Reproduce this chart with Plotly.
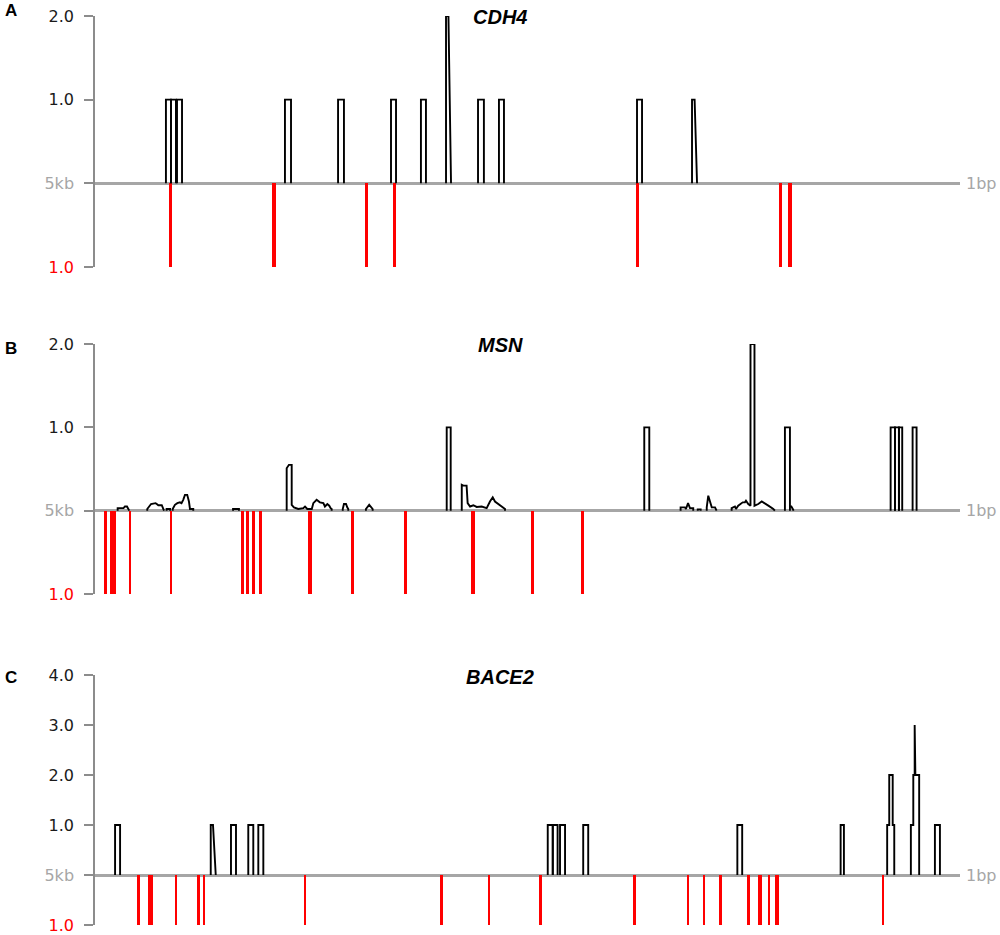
import plotly.graph_objects as go
from plotly.subplots import make_subplots

# positions are bp upstream: the axis runs from 5kb (left) to 1bp (right)

# ── CDH4 ──────────────────────────────────────────────────────────────────────
# black coverage pulses: (start_bp, end_bp, height)
CDH4_PULSES = [
    (4590, 4561, 1), (4561, 4532, 1), (4526, 4497, 1), (3902, 3867, 1),
    (3595, 3561, 1), (3289, 3260, 1), (3116, 3087, 1),
    (2786, 2752, 1), (2665, 2636, 1), (1867, 1838, 1),
]
# pulses with a sloping trailing edge: lists of (bp, height)
CDH4_SLOPED = [
    [(2971, 0), (2971, 2), (2957, 2), (2942, 0)],
    [(1549, 0), (1549, 1), (1534, 1), (1520, 0)],
]
CDH4_RED_POS = [4562, 3965, 3430, 3270, 1863, 1037, 983]
CDH4_RED_WIDTH = [19, 19, 17, 19, 17, 19, 19]

# ── MSN ───────────────────────────────────────────────────────────────────────
MSN_PULSES = [
    (2967, 2944, 1), (1825, 1796, 1), (1012, 983, 1),
    (401, 376, 1), (376, 353, 1), (353, 334, 1), (274, 251, 1),
]
# low-level coverage traces: lists of (bp, height)
MSN_WIGGLES = [
    [(4869, 0), (4869, 0.03), (4835, 0.03), (4827, 0.05), (4815, 0.05), (4802, 0)],
    [(4698, 0), (4698, 0.02), (4676, 0.08), (4650, 0.09), (4643, 0.08),
     (4634, 0.065), (4614, 0.065), (4601, 0)],
    [(4586, 0), (4586, 0.02), (4566, 0.02), (4566, 0)],
    [(4551, 0), (4551, 0.02), (4538, 0.07), (4524, 0.09), (4509, 0.1), (4500, 0.09),
     (4490, 0.13), (4480, 0.19), (4467, 0.19), (4457, 0.11), (4451, 0.02),
     (4432, 0.02), (4432, 0)],
    [(4202, 0), (4202, 0.02), (4168, 0.02), (4168, 0)],
    [(3892, 0), (3892, 0.51), (3879, 0.55), (3863, 0.55), (3863, 0.07),
     (3850, 0.04), (3825, 0.02), (3796, 0.03), (3786, 0.05), (3773, 0.02),
     (3747, 0.02), (3738, 0.09), (3719, 0.13), (3700, 0.1), (3680, 0.09),
     (3671, 0.05), (3657, 0.08), (3646, 0.06), (3638, 0.03), (3632, 0.02), (3632, 0)],
    [(3568, 0), (3568, 0.02), (3561, 0.08), (3549, 0.08), (3542, 0.04),
     (3536, 0.02), (3536, 0)],
    [(3434, 0), (3434, 0.02), (3415, 0.07), (3405, 0.04), (3395, 0.02), (3395, 0)],
    [(2880, 0), (2880, 0.31), (2871, 0.3), (2852, 0.3), (2846, 0.09),
     (2832, 0.05), (2813, 0.065), (2794, 0.045), (2765, 0.05), (2736, 0.03),
     (2717, 0.11), (2701, 0.16), (2688, 0.11), (2669, 0.08), (2649, 0.05),
     (2630, 0.02), (2630, 0)],
    [(1615, 0), (1615, 0.04), (1590, 0.04), (1584, 0.02), (1572, 0.09),
     (1561, 0.03), (1542, 0.03), (1542, 0)],
    [(1516, 0), (1516, 0.015), (1499, 0.015), (1499, 0)],
    [(1464, 0), (1464, 0.04), (1455, 0.18), (1445, 0.11), (1435, 0.04),
     (1416, 0.04), (1407, 0)],
    [(1320, 0), (1320, 0.03), (1301, 0.05), (1295, 0.02), (1282, 0.06),
     (1272, 0.08), (1256, 0.1), (1243, 0.1), (1237, 0.12), (1224, 0.08),
     (1211, 0.06), (1211, 2), (1188, 2), (1188, 0.06), (1166, 0.08),
     (1146, 0.11), (1127, 0.09), (1108, 0.06), (1079, 0.02), (1070, 0)],
    [(983, 0.05), (975, 0.05), (964, 0.01), (964, 0)],
]
MSN_RED_POS = [4938, 4902, 4886, 4798, 4559, 4149, 4116, 4083, 4046,
               3757, 3512, 3204, 2815, 2470, 2181]
MSN_RED_WIDTH = [18, 18, 10, 16, 8, 17, 17, 17, 17, 18, 18, 18, 18, 18, 18]

# ── BACE2 ─────────────────────────────────────────────────────────────────────
BACE2_PULSES = [
    (4884, 4855, 1), (4214, 4185, 1), (4114, 4085, 1),
    (4056, 4027, 1), (2383, 2354, 1), (2354, 2326, 1), (2312, 2283, 1),
    (2178, 2149, 1), (1287, 1259, 1), (690, 671, 1), (145, 116, 1),
]
BACE2_STACKS = [
    [(4331, 0), (4331, 1), (4318, 1), (4302, 0)],
    [(421, 0), (421, 1), (409, 1), (409, 2), (389, 2), (389, 1), (380, 1), (380, 0)],
    [(284, 0), (284, 1), (270, 1), (270, 2), (262, 2), (262, 3), (258, 3),
     (258, 2), (236, 2), (236, 0)],
]
BACE2_RED_POS = [4750, 4681, 4533, 4403, 4370, 3786, 2996, 2723, 2424,
                 1881, 1571, 1480, 1383, 1224, 1156, 1108, 1058, 444]
BACE2_RED_WIDTH = [9, 29, 11, 16, 9, 16, 16, 16, 16, 16, 12, 12, 16, 9, 18, 9, 18, 9]

GENES = ["CDH4", "MSN", "BACE2"]
LETTERS = ["A", "B", "C"]
Y_TOPS = [2, 2, 4]

GREY = "#a6a6a6"
AXIS_GREY = "#8c8c8c"

W, H = 1000, 935
# plot-area rows in page pixels (top, bottom)
ROWS_PX = [(16, 267), (344, 594), (675, 925)]
TITLE_Y_PX = [17.5, 345, 676.5]
LETTER_Y_PX = [11, 348.5, 677]


def coverage_xy(pulses, segments=()):
    xs, ys = [], []
    for a, b, h in pulses:
        xs += [a, a, b, b, None]
        ys += [0, h, h, 0, None]
    for seg in segments:
        xs += [p[0] for p in seg] + [None]
        ys += [p[1] for p in seg] + [None]
    return xs, ys


panels = [
    (CDH4_PULSES, CDH4_SLOPED, CDH4_RED_POS, CDH4_RED_WIDTH),
    (MSN_PULSES, MSN_WIGGLES, MSN_RED_POS, MSN_RED_WIDTH),
    (BACE2_PULSES, BACE2_STACKS, BACE2_RED_POS, BACE2_RED_WIDTH),
]

fig = make_subplots(rows=3, cols=1)

for i, (pulses, segs, red_pos, red_w) in enumerate(panels):
    r = i + 1
    xs, ys = coverage_xy(pulses, segs)
    fig.add_trace(
        go.Bar(x=red_pos, y=[-1] * len(red_pos), width=red_w,
               marker=dict(color="#ff0000", line=dict(width=0)), showlegend=False),
        row=r, col=1,
    )
    fig.add_trace(
        go.Scatter(x=xs, y=ys, mode="lines", line=dict(color="black", width=1.9),
                   connectgaps=False, showlegend=False),
        row=r, col=1,
    )

    top = Y_TOPS[i]
    tickvals = [-1, 0] + list(range(1, top + 1))
    ticktext = [
        '<span style="color:#ff0000">1.0</span>',
        f'<span style="color:{GREY}">5kb</span>',
    ] + [f"{v:.1f}" for v in range(1, top + 1)]

    t_px, b_px = ROWS_PX[i]
    fig.update_yaxes(
        row=r, col=1,
        domain=[1 - b_px / H, 1 - t_px / H],
        range=[-1, top], tickvals=tickvals, ticktext=ticktext,
        showgrid=False, showline=True, linecolor=AXIS_GREY, linewidth=1.5,
        ticks="outside", ticklen=9, tickcolor=AXIS_GREY, tickwidth=1.5,
        zeroline=True, zerolinecolor=GREY, zerolinewidth=2.5,
        tickfont=dict(family="DejaVu Sans", size=16, color="#1a1a1a"),
        ticklabelstandoff=7, automargin=False,
    )
    fig.update_xaxes(
        row=r, col=1, domain=[95 / W, 960 / W], range=[5000, 0],
        showgrid=False, showline=False, zeroline=False, showticklabels=False,
        ticks="", automargin=False,
    )

    yref = "y" if r == 1 else f"y{r}"
    fig.add_annotation(
        x=964 / W, y=0, xref="paper", yref=yref, xanchor="left", yanchor="middle",
        text="1bp", showarrow=False,
        font=dict(family="DejaVu Sans", size=16, color=GREY),
    )
    fig.add_annotation(
        x=0.5, y=1 - TITLE_Y_PX[i] / H, xref="paper", yref="paper", xanchor="center",
        yanchor="middle", text=f"<b><i>{GENES[i]}</i></b>", showarrow=False,
        font=dict(family="Liberation Sans", size=20, color="black"),
    )
    fig.add_annotation(
        x=3 / W, y=1 - LETTER_Y_PX[i] / H, xref="paper", yref="paper", xanchor="left",
        yanchor="middle", text=f"<b>{LETTERS[i]}</b>", showarrow=False,
        font=dict(family="Liberation Sans", size=17, color="black"),
    )

fig.update_layout(
    width=W, height=H, margin=dict(l=0, r=0, t=0, b=0, autoexpand=False),
    paper_bgcolor="white", plot_bgcolor="white", bargap=0,
    showlegend=False,
)

# drop the browser's default 8px body margin so the figure fills the window
fig.write_html(
    "out.html",
    config={"displayModeBar": False},
    post_script="document.body.style.margin = '0';",
)
